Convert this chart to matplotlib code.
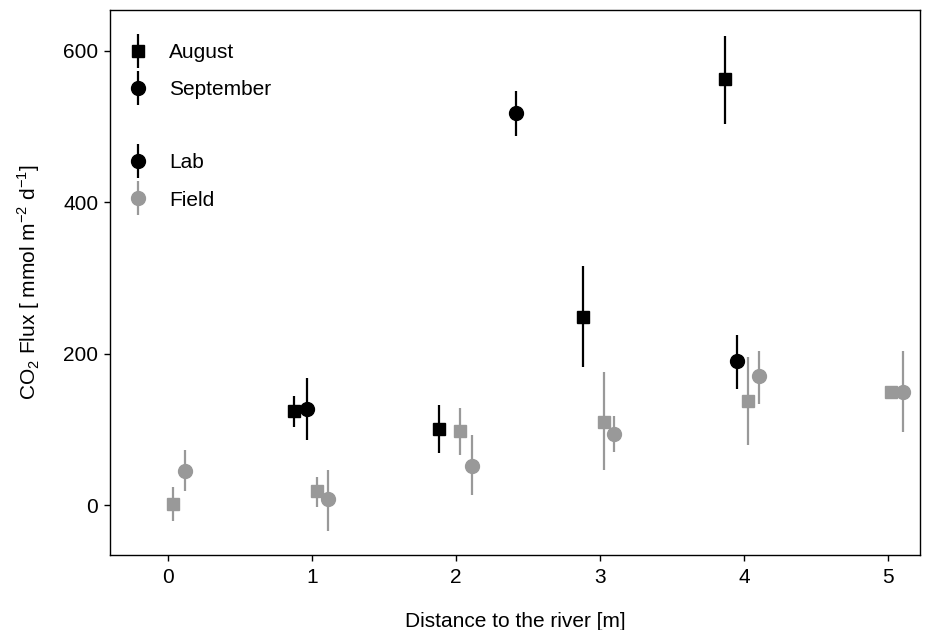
import numpy as np
import matplotlib.pyplot as plt
from matplotlib.legend_handler import HandlerErrorbar
from matplotlib.container import ErrorbarContainer

plt.rcParams['font.family'] = ['Liberation Sans', 'DejaVu Sans']
plt.rcParams['mathtext.fontset'] = 'custom'
plt.rcParams['mathtext.rm'] = 'Liberation Sans'

# Lab measurements, August (squares) and September (circles)
lab_aug_x = [0.88, 1.88, 2.88, 3.87]
lab_aug_y = [124, 100, 249, 563]
lab_aug_lo = [103, 69, 183, 503]
lab_aug_hi = [144, 132, 316, 620]

lab_sep_x = [0.965, 2.42, 3.95]
lab_sep_y = [127, 518, 190]
lab_sep_lo = [86, 488, 153]
lab_sep_hi = [168, 547, 225]

# Field measurements
field_aug_x = [0.04, 1.035, 2.03, 3.03, 4.025, 5.02]
field_aug_y = [2, 18, 98, 110, 138, 149]
field_aug_lo = [-21, -2, 66, 46, 80, 144]
field_aug_hi = [24, 37, 128, 176, 196, 154]

field_sep_x = [0.12, 1.11, 2.11, 3.10, 4.10, 5.10]
field_sep_y = [45, 8, 52, 94, 170, 150]
field_sep_lo = [18, -34, 13, 70, 134, 96]
field_sep_hi = [73, 47, 93, 118, 204, 204]

GREY = '#999999'
BLACK = '#000000'
FS = 15


def err(y, lo, hi):
    y = np.array(y)
    return [y - np.array(lo), np.array(hi) - y]


fig = plt.figure(figsize=(9.35, 6.3), dpi=100)
ax = fig.add_axes([0.1176, 0.119, 0.8664, 0.865])

kw = dict(ls='none', elinewidth=1.6, capsize=0)
ax.errorbar(field_aug_x, field_aug_y, yerr=err(field_aug_y, field_aug_lo, field_aug_hi),
            marker='s', ms=8.5, color=GREY, **kw)
ax.errorbar(field_sep_x, field_sep_y, yerr=err(field_sep_y, field_sep_lo, field_sep_hi),
            marker='o', ms=10, color=GREY, **kw)
ax.errorbar(lab_aug_x, lab_aug_y, yerr=err(lab_aug_y, lab_aug_lo, lab_aug_hi),
            marker='s', ms=8.5, color=BLACK, **kw)
ax.errorbar(lab_sep_x, lab_sep_y, yerr=err(lab_sep_y, lab_sep_lo, lab_sep_hi),
            marker='o', ms=10, color=BLACK, **kw)

ax.set_xlim(-0.40, 5.22)
ax.set_ylim(-66, 654)
ax.set_xticks([0, 1, 2, 3, 4, 5])
ax.set_yticks([0, 200, 400, 600])
ax.tick_params(direction='out', length=4.5, width=1, labelsize=FS)
ax.tick_params(axis='x', pad=5)
ax.tick_params(axis='y', pad=4)
for s in ax.spines.values():
    s.set_linewidth(1)

ax.set_xlabel('Distance to the river [m]', fontsize=FS, labelpad=18)
ax.set_ylabel(r'CO$_\mathregular{2}$ Flux [ mmol m$^\mathregular{-2}$ d$^\mathregular{-1}$]',
              fontsize=FS, labelpad=15)

# legend proxies
def proxy(marker, color, ms):
    return ax.errorbar([np.nan], [np.nan], yerr=[[1], [1]], marker=marker, ms=ms,
                       color=color, **kw)

h_aug = proxy('s', BLACK, 8.5)
h_sep = proxy('o', BLACK, 10)
h_lab = proxy('o', BLACK, 10)
h_field = proxy('o', GREY, 10)

hmap = {ErrorbarContainer: HandlerErrorbar(xerr_size=0.82)}
leg_kw = dict(frameon=False, fontsize=FS, handlelength=0.8, handletextpad=1.1,
              labelspacing=0.89, borderaxespad=0, handler_map=hmap)
leg1 = ax.legend([h_aug, h_sep], ['August', 'September'], loc='upper left',
                 bbox_to_anchor=(0.014, 0.955), **leg_kw)
ax.add_artist(leg1)
ax.legend([h_lab, h_field], ['Lab', 'Field'], loc='upper left',
          bbox_to_anchor=(0.014, 0.753), **leg_kw)

fig.savefig('out.png', dpi=100)
